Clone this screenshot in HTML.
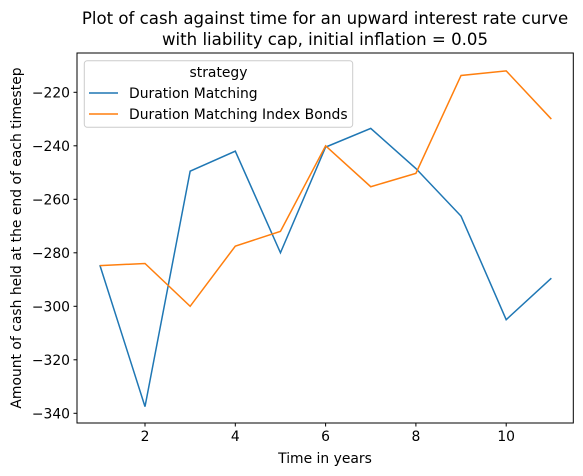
<!DOCTYPE html>
<html><head><meta charset="utf-8"><style>body{margin:0;background:#fff}svg{display:block;font-family:"DejaVu Sans","Liberation Sans",sans-serif}</style></head>
<body>
<svg id="chart" width="583" height="476" xmlns="http://www.w3.org/2000/svg">
<text x="325" y="24" font-size="16.6" text-anchor="middle">Plot of cash against time for an upward interest rate curve</text>
<text x="325" y="45" font-size="16.6" text-anchor="middle">with liability cap, initial inflation = 0.05</text>
<g id="ticks"></g>
<g id="lines"></g>
<rect x="77" y="53" width="496.3" height="370" fill="none" stroke="#000" stroke-width="1"/>
<text x="325" y="463" font-size="13.9" text-anchor="middle">Time in years</text>
<text transform="translate(21,238) rotate(-90)" font-size="13.9" text-anchor="middle">Amount of cash held at the end of each timestep</text>
<g>
<rect x="84.3" y="60.7" width="268.4" height="66.6" rx="3" fill="#fff" fill-opacity="0.8" stroke="#ccc"/>
<text x="218.5" y="77" font-size="13.9" text-anchor="middle">strategy</text>
<line x1="89" y1="93" x2="118" y2="93" stroke="#1f77b4" stroke-width="1.5"/>
<text x="129" y="97.8" font-size="13.9">Duration Matching</text>
<line x1="89" y1="114" x2="118" y2="114" stroke="#ff7f0e" stroke-width="1.5"/>
<text x="129" y="118.8" font-size="13.9">Duration Matching Index Bonds</text>
</g>
</svg>
<script>
const years=[1,2,3,4,5,6,7,8,9,10,11];
const durationMatching=[-284.6,-337.5,-249.5,-242,-280,-240.5,-233.5,-248.5,-266.3,-305,-289.5];
const indexBonds=[-284.8,-284,-300,-277.5,-272,-240,-255.3,-250.3,-213.7,-212,-230];
const xTicks=[2,4,6,8,10];
const yTicks=[-220,-240,-260,-280,-300,-320,-340];
const NS="http://www.w3.org/2000/svg";
function xs(v){return 145+(v-2)*45.15;}
function ys(v){return 92.3+(-220-v)*2.675;}
const tg=document.getElementById('ticks');
function mk(tag,attrs,parent){const e=document.createElementNS(NS,tag);for(const k in attrs)e.setAttribute(k,attrs[k]);parent.appendChild(e);return e;}
xTicks.forEach(t=>{
 const l=mk('line',{x1:xs(t),x2:xs(t),y1:423,y2:426.5,stroke:'#000'},tg);
 
 
 const tx=mk('text',{x:xs(t),y:441,'font-size':13.9,'text-anchor':'middle'},tg);tx.textContent=t;
 
 
});
yTicks.forEach(t=>{
 const l=mk('line',{x1:73.5,x2:77,y1:ys(t),y2:ys(t),stroke:'#000'},tg);
 
 
 const tx=mk('text',{x:70,y:ys(t)+5,'font-size':13.9,'text-anchor':'end'},tg);tx.textContent='\u2212'+Math.abs(t);
 
 
});
const lg=document.getElementById('lines');
[[durationMatching,'#1f77b4','duration-matching-line'],[indexBonds,'#ff7f0e','index-bonds-line']].forEach(([d,c,n])=>{
 const p=mk('polyline',{points:years.map((x,i)=>xs(x)+','+ys(d[i])).join(' '),fill:'none',stroke:c,'stroke-width':1.5},lg);
 
 
});
</script>
</body></html>
